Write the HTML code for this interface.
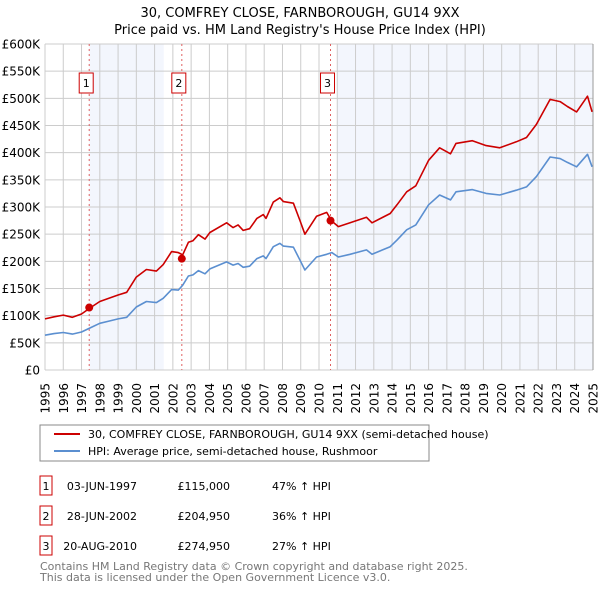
<!DOCTYPE html>
<html><head><meta charset="utf-8"><style>
body{margin:0;background:#fff;font-family:"DejaVu Sans","Liberation Sans",sans-serif;}
svg text{font-family:"DejaVu Sans","Liberation Sans",sans-serif;}
</style></head><body>
<svg id="chart" width="600" height="590" viewBox="0 0 600 590" xmlns="http://www.w3.org/2000/svg">
<text x="300" y="17" text-anchor="middle" font-size="13">30, COMFREY CLOSE, FARNBOROUGH, GU14 9XX</text>
<text x="300" y="34" text-anchor="middle" font-size="13">Price paid vs. HM Land Registry's House Price Index (HPI)</text>
<g id="plot"></g>
<g>
<rect x="40" y="425" width="389" height="36" fill="#fff" stroke="#888"/>
<line x1="54" y1="434" x2="80" y2="434" stroke="#cc0000" stroke-width="2"/>
<text x="88" y="438" font-size="11">30, COMFREY CLOSE, FARNBOROUGH, GU14 9XX (semi-detached house)</text>
<line x1="54" y1="451" x2="80" y2="451" stroke="#5b8fd0" stroke-width="2"/>
<text x="88" y="455" font-size="11">HPI: Average price, semi-detached house, Rushmoor</text>
</g>
<g id="table" font-size="11"></g>
<text x="40" y="570" font-size="11" fill="#777">Contains HM Land Registry data © Crown copyright and database right 2025.</text>
<text x="40" y="581" font-size="11" fill="#777">This data is licensed under the Open Government Licence v3.0.</text>
</svg>
<script>
const hpiYears=[1995.0,1995.5,1996.0,1996.5,1997.0,1997.5,1998.0,1998.5,1999.0,1999.47,2000.0,2000.55,2001.1,2001.47,2001.93,2002.3,2002.54,2002.85,2003.1,2003.4,2003.76,2004.03,2004.94,2005.3,2005.57,2005.85,2006.2,2006.6,2006.95,2007.1,2007.5,2007.86,2008.05,2008.6,2008.96,2009.23,2009.87,2010.42,2010.7,2011.06,2011.7,2012.6,2012.9,2013.9,2014.27,2014.8,2015.3,2016.0,2016.6,2017.2,2017.5,2018.4,2019.15,2019.9,2020.8,2021.36,2021.9,2022.65,2023.2,2023.6,2024.1,2024.7,2024.95];
const hpiValues=[64,67,69,66,70,78,86,90,94,97,116,126,124,132,148,147,156,173,175,183,177,186,199,193,196,189,191,205,210,205,227,233,228,226,202,184,208,213,216,208,213,221,213,227,239,258,267,304,322,313,328,332,325,322,331,337,356,392,389,382,374,397,374];
const redValues=[94,98,101,97,103,115,126,132,138,143,171,185,182,194,218,216,212,235,238,249,241,253,271,262,267,257,260,279,286,279,309,317,310,307,275,250,283,290,274,264,271,281,271,288,304,328,339,386,409,398,417,422,413,409,420,428,452,498,494,485,475,504,475];
const saleYears=[1997.42,2002.49,2010.63];
const saleValues=[115,204.95,274.95];
const saleLabels=["1","2","3"];
const saleDates=["03-JUN-1997","28-JUN-2002","20-AUG-2010"];
const salePrices=["£115,000","£204,950","£274,950"];
const saleDiffs=["47% ↑ HPI","36% ↑ HPI","27% ↑ HPI"];
const yTicks=[0,50,100,150,200,250,300,350,400,450,500,550,600];
const yTickLabels=["£0","£50K","£100K","£150K","£200K","£250K","£300K","£350K","£400K","£450K","£500K","£550K","£600K"];
const xTicks=[1995,1996,1997,1998,1999,2000,2001,2002,2003,2004,2005,2006,2007,2008,2009,2010,2011,2012,2013,2014,2015,2016,2017,2018,2019,2020,2021,2022,2023,2024,2025];

const NS="http://www.w3.org/2000/svg";
const X0=45,X1=593,Y0=370,Y1=44;
const xs=y=>X0+(y-1995)/30*(X1-X0);
const ys=v=>Y0-v/600*(Y0-Y1);
const plot=document.getElementById('plot');
function mk(tag,attrs,parent){const e=document.createElementNS(NS,tag);for(const k in attrs)e.setAttribute(k,attrs[k]);(parent||plot).appendChild(e);return e;}

let sh=mk('rect',{x:xs(saleYears[0]),y:Y1,width:xs(2001.5)-xs(saleYears[0]),height:Y0-Y1,fill:'#f3f6fd'});


let sh2=mk('rect',{x:xs(2011.0),y:Y1,width:X1-xs(2011.0),height:Y0-Y1,fill:'#f3f6fd'});



xTicks.forEach((t,i)=>{
  let g=mk('line',{x1:xs(t),x2:xs(t),y1:Y1,y2:Y0,stroke:'#cccccc','stroke-width':1});
  
  
  let tx=mk('text',{x:0,y:0,'font-size':12,'text-anchor':'end',transform:`translate(${xs(t)+4.5},${Y0+13}) rotate(-90)`});
  tx.textContent=t;
  
  
});
yTicks.forEach((t,i)=>{
  let g=mk('line',{x1:X0,x2:X1,y1:ys(t),y2:ys(t),stroke:'#cccccc','stroke-width':1});
  
  
  let tx=mk('text',{x:40,y:ys(t)+4.5,'font-size':12,'text-anchor':'end'});
  tx.textContent=yTickLabels[i];
  
  
});
let ax=mk('line',{x1:X1,x2:X1,y1:Y1,y2:Y0,stroke:'#999','stroke-width':1});



saleYears.forEach((y,i)=>{
  let l=mk('line',{x1:xs(y),x2:xs(y),y1:Y1,y2:Y0,stroke:'#e06060','stroke-width':1,'stroke-dasharray':'2,3'});
  
  
  let b=mk('rect',{x:xs(y)-10,y:73,width:14,height:20,fill:'#fff',stroke:'#cc0000'});
  
  
  let t=mk('text',{x:xs(y)-3,y:87,'font-size':11,'text-anchor':'middle'});
  t.textContent=saleLabels[i];
  
  
});

function line(vals,color,name){
  const d=hpiYears.map((y,i)=>(i?'L':'M')+xs(y).toFixed(1)+','+ys(vals[i]).toFixed(1)).join('');
  let p=mk('path',{d:d,fill:'none',stroke:color,'stroke-width':1.6,'stroke-linejoin':'round'});
  
  
}
line(hpiValues,'#5b8fd0','hpi-line');
line(redValues,'#cc0000','property-line');
saleYears.forEach((y,i)=>{
  let c=mk('circle',{cx:xs(y),cy:ys(saleValues[i]),r:4,fill:'#cc0000'});
  
  
});

const tbl=document.getElementById('table');
saleLabels.forEach((s,i)=>{
  const y=476+i*30;
  let b=mk('rect',{x:40,y:y,width:12,height:19,fill:'#fff',stroke:'#cc0000'},tbl);
  
  
  const cells=[[46,s,'middle'],[137,saleDates[i],'end'],[230,salePrices[i],'end'],[272,saleDiffs[i],'start']];
  cells.forEach(c=>{
    let t=mk('text',{x:c[0],y:y+14,'text-anchor':c[2]},tbl);
    t.textContent=c[1];
    
    
  });
});
</script>
</body></html>
